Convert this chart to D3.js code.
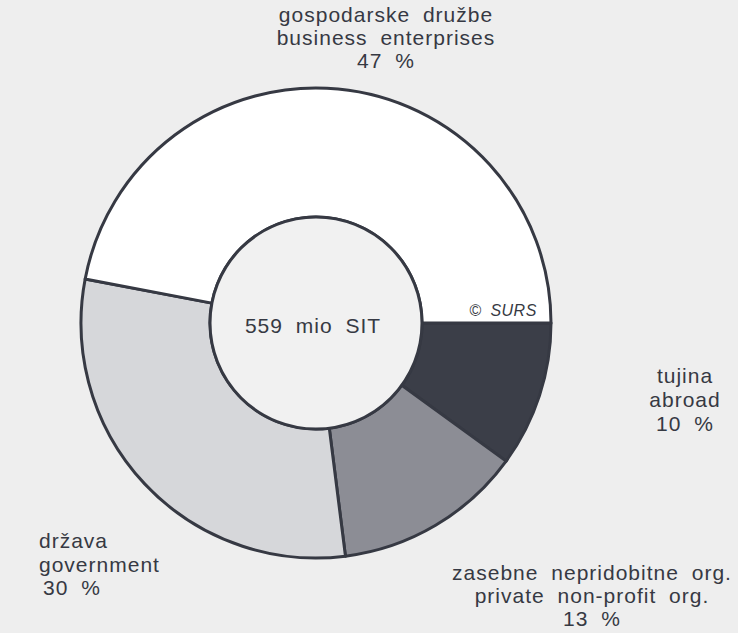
<!DOCTYPE html>
<html>
<head>
<meta charset="utf-8">
<script src="https://cdn.jsdelivr.net/npm/d3@7"></script>
<style>
  body { margin: 0; background: #eeeeee; }
  svg { display: block; }
  text { font-family: "Liberation Sans", Arial, sans-serif; fill: #363943; }
</style>
</head>
<body>
<svg width="738" height="633"></svg>
<script>
// values, in drawing order (clockwise from 3 o'clock)
const sectors = ["tujina", "zasebne", "drzava", "gospodarske"];
const shares = [10, 13, 30, 47];
const labelsSl = ["tujina", "zasebne nepridobitne org.", "država", "gospodarske družbe"];
const labelsEn = ["abroad", "private non-profit org.", "government", "business enterprises"];
const total = "559 mio SIT";

const svg = d3.select("svg");
const cx = 316, cy = 323;
const rOuter = 235, rInner = 106;

// grey fills of the scanned original
const fill = d3.scaleOrdinal()
    .domain(sectors)
    .range(["#3b3e48", "#8c8d95", "#d6d7da", "#ffffff"]);

const pie = d3.pie()
    .sort(null)
    .value(d => d)
    .startAngle(Math.PI / 2)
    .endAngle(Math.PI / 2 + 2 * Math.PI);

const arc = d3.arc().innerRadius(rInner).outerRadius(rOuter);

const g = svg.append("g").attr("transform", `translate(${cx},${cy})`);

g.selectAll("path")
    .data(pie(shares))
    .join("path")
    .attr("d", arc)
    .attr("fill", (d, i) => fill(sectors[i]))
    .attr("stroke", "#363943")
    .attr("stroke-width", 3)
    .attr("stroke-linejoin", "round");

//inner hole
g.append("circle")
    .attr("r", rInner)
    .attr("fill", "#f1f1f1")
    .attr("stroke", "#363943")
    .attr("stroke-width", 3);

g.append("text")
    .attr("x", -3)
    .attr("y", 10)
    .attr("text-anchor", "middle")
    .attr("font-size", 21)
    .attr("letter-spacing", 1)
    .attr("word-spacing", 6)
    .text(total);

// copyright mark
svg.append("text")
    .attr("x", 503)
    .attr("y", 316)
    .attr("text-anchor", "middle")
    .attr("font-size", 16)
    .attr("font-style", "italic")
    .attr("letter-spacing", 0.5)
    .attr("word-spacing", 4)
    .text("© SURS");

// label positions per sector: x, first baseline, line step, anchor
const labelPos = [
    {x: 685, y: 383, dy: 24, anchor: "middle"},
    {x: 592, y: 580, dy: 23, anchor: "middle"},
    {x: 39, y: 548, dy: 23.5, anchor: "start"},
    {x: 386, y: 22, dy: 23, anchor: "middle"}
];

shares.forEach((v, i) => {
    const p = labelPos[i];
    const t = svg.append("text")
        .attr("text-anchor", p.anchor)
        .attr("font-size", 21)
        .attr("letter-spacing", 1)
        .attr("word-spacing", 6);
    [labelsSl[i], labelsEn[i], v + " %"].forEach((line, j) => {
        t.append("tspan")
            .attr("x", p.anchor === "start" && j === 2 ? p.x + 4 : p.x)
            .attr("y", p.y + j * p.dy)
            .text(line);
    });
});
</script>
</body>
</html>
